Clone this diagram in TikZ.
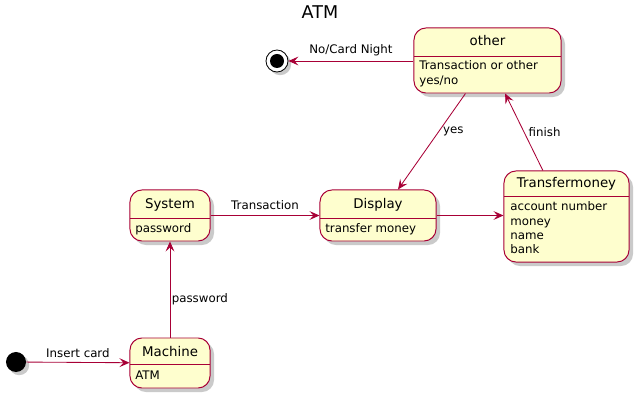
\documentclass[tikz,border=0pt]{standalone}
\usepackage{fontspec}
\setmainfont{DejaVu Sans}
\usetikzlibrary{arrows.meta,shadows}

\definecolor{umlred}{HTML}{A80036}
\definecolor{umlfill}{HTML}{FEFECE}

\begin{document}
\begin{tikzpicture}[
    x=0.025cm, y=-0.025cm,
    state/.style={rectangle, rounded corners=0.3cm, draw=umlred, fill=umlfill, line width=0.7pt,
        drop shadow={shadow xshift=0.1cm, shadow yshift=-0.1cm, fill=black!35, opacity=0.6}},
    title/.style={font=\fontsize{9.5}{12}\selectfont, inner sep=0pt},
    body/.style={font=\fontsize{8.4}{10.2}\selectfont, inner sep=0pt, anchor=north west, align=left},
    elabel/.style={font=\fontsize{8.4}{10.2}\selectfont, inner sep=1pt},
    edge/.style={draw=umlred, line width=0.6pt, -{Stealth[length=0.25cm, width=0.22cm, inset=0.1cm]}},
    startpoint/.style={circle, fill=black, minimum size=0.5cm, inner sep=0pt,
        drop shadow={shadow xshift=0.08cm, shadow yshift=-0.08cm, fill=black!35, opacity=0.6}},
    endpoint/.style={circle, draw=black, fill=white, line width=0.6pt, minimum size=0.55cm, inner sep=0pt,
        drop shadow={shadow xshift=0.08cm, shadow yshift=-0.08cm, fill=black!35, opacity=0.6}}
]
\useasboundingbox (0,0) rectangle (640,400);

% Title
\node[font=\fontsize{12.5}{15}\selectfont, inner sep=0pt] (atm) at (320,12) {ATM};

% States
\node[state, minimum width=3.675cm, minimum height=1.625cm] (other) at (487.5,60.5) {};
\draw[umlred, line width=0.6pt] (414,56) -- (561,56);
\node[title] (otherT) at (487.5,41) {other};
\node[body] (otherB) at (419,60.5) {Transaction or other\\yes/no};

\node[state, minimum width=2cm, minimum height=1.275cm] (system) at (170,215.5) {};
\draw[umlred, line width=0.6pt] (130,218) -- (210,218);
\node[title] (systemT) at (170,205) {System};
\node[body] (systemB) at (135,223.5) {password};

\node[state, minimum width=2.9cm, minimum height=1.275cm] (display) at (378,215.5) {};
\draw[umlred, line width=0.6pt] (320,218) -- (436,218);
\node[title] (displayT) at (378,205) {Display};
\node[body] (displayB) at (325,223.5) {transfer money};

\node[state, minimum width=3.125cm, minimum height=2.275cm] (transfer) at (566.5,216.5) {};
\draw[umlred, line width=0.6pt] (504,196) -- (629,196);
\node[title] (transferT) at (566.5,184) {Transfermoney};
\node[body] (transferB) at (510,201.5) {account number\\money\\name\\bank};

\node[state, minimum width=2cm, minimum height=1.25cm] (machine) at (170,363) {};
\draw[umlred, line width=0.6pt] (130,364) -- (210,364);
\node[title] (machineT) at (170,352) {Machine};
\node[body] (machineB) at (135,370.5) {ATM};

% Start and end
\node[startpoint] (init) at (16,362) {};
\node[endpoint] (final) at (277,61) {};
\node[circle, fill=black, minimum size=0.35cm, inner sep=0pt] (finaldot) at (final) {};

% Edges
\draw[edge] (init) -- node[elabel, above, yshift=2pt] {Insert card} (machine);
\draw[edge] (machine) -- node[elabel, right, pos=0.4] {password} (system);
\draw[edge] (system) -- node[elabel, above, yshift=2.5pt] {Transaction} (display);
\draw[edge] (display.east) -- (transfer.west |- display.east);
\draw[edge] ([xshift=-0.55cm]other.south) -- node[elabel, right, pos=0.4, xshift=2pt] {yes} ([xshift=0.5cm]display.north);
\draw[edge] ([xshift=-0.59cm]transfer.north) -- node[elabel, right, pos=0.5, xshift=2pt] {finish} ([xshift=0.44cm]other.south);
\draw[edge] (other.west |- final) -- node[elabel, above, yshift=2pt] {No/Card Night} (final);

\end{tikzpicture}
\end{document}
